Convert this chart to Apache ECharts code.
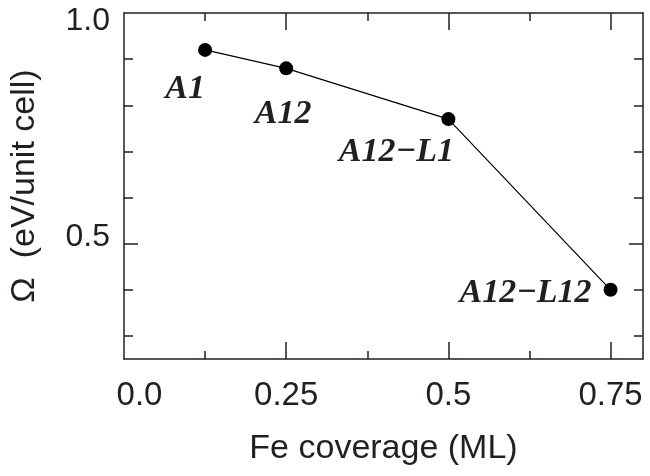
<!DOCTYPE html>
<html>
<head>
<meta charset="utf-8">
<script src="https://cdn.jsdelivr.net/npm/echarts@6/dist/echarts.min.js"></script>
<style>
html,body{margin:0;padding:0;background:#fff;}
#chart{width:650px;height:476px;}
</style>
</head>
<body>
<div id="chart"></div>
<script>
// ---- data ----
var coverage = [0.125, 0.25, 0.5, 0.75];
var omega = [0.92, 0.88, 0.77, 0.40];
var structures = ['A1', 'A12', 'A12\u2212L1', 'A12\u2212L12'];
var xTickLabels = ['0.0', '0.25', '0.5', '0.75'];
var xTickValues = [0, 0.25, 0.5, 0.75];
var yTickLabels = ['0.5', '1.0'];
var yTickValues = [0.5, 1.0];
var xMajorTicks = [0.25, 0.5, 0.75];
var xMinorTicks = [0.125, 0.375, 0.625];
var yMajorTicks = [0.5];
var yMinorTicks = [0.3, 0.4, 0.6, 0.7, 0.8, 0.9];

var labelOffsets = [[-20, 39], [-3, 46], [-52, 33], [-85, 3]];

var sans = '"Liberation Sans", Arial, Helvetica, sans-serif';
var serif = '"Liberation Serif", "Times New Roman", serif';
var ink = '#231f20';

function xAx(pos, ticks, len, showLine, showLabel) {
  return {
    type: 'value', position: pos, min: 0, max: 0.8, gridIndex: 0,
    splitLine: {show: false},
    axisLine: {show: showLine, onZero: false, lineStyle: {color: ink, width: 1.5}},
    axisTick: {show: true, inside: true, length: len, customValues: ticks, lineStyle: {color: ink, width: 1.5}},
    axisLabel: {show: false}
  };
}
function yAx(pos, ticks, len, showLine) {
  return {
    type: 'value', position: pos, min: 0.25, max: 1.0, gridIndex: 0,
    splitLine: {show: false},
    axisLine: {show: showLine, onZero: false, lineStyle: {color: ink, width: 1.5}},
    axisTick: {show: true, inside: true, length: len, customValues: ticks, lineStyle: {color: ink, width: 1.5}},
    axisLabel: {show: false}
  };
}

var xMain = xAx('bottom', xMajorTicks, 17, true);
xMain.axisLabel = {
  show: true, customValues: xTickValues, margin: 20,
  color: ink, fontFamily: sans, fontSize: 33,
  formatter: function (v) {
    var i = xTickValues.indexOf(v);
    var t = i >= 0 ? xTickLabels[i] : '';
    return v === 0 ? '{z|' + t + '}' : t;
  },
  rich: {z: {fontFamily: sans, fontSize: 33, color: ink, padding: [0, 0, 0, 31]}}
};
xMain.name = 'Fe coverage (ML)';
xMain.nameLocation = 'middle';
xMain.nameGap = 73;
xMain.nameTextStyle = {color: ink, fontFamily: sans, fontSize: 34};

var yMain = yAx('left', yMajorTicks, 14, true);
yMain.axisLabel = {
  show: true, customValues: yTickValues, margin: 14,
  color: ink, fontFamily: sans, fontSize: 32,
  formatter: function (v) {
    var i = yTickValues.indexOf(v);
    var t = i >= 0 ? yTickLabels[i] : '';
    return v === 1 ? '{t|' + t + '}' : '{m|' + t + '}';
  },
  rich: {
    t: {fontFamily: sans, fontSize: 32, color: ink, padding: [16, 0, 0, 0]},
    m: {fontFamily: sans, fontSize: 32, color: ink, padding: [0, 0, 12, 0]}
  }
};
yMain.name = '\u03A9  (eV/unit cell)';
yMain.nameLocation = 'middle';
yMain.nameRotate = 90;
yMain.nameGap = 82;
yMain.nameTextStyle = {color: ink, fontFamily: sans, fontSize: 34};

var seriesData = coverage.map(function (x, i) {
  return {
    value: [x, omega[i]],
    label: {
      show: true, formatter: structures[i], position: 'inside',
      offset: labelOffsets[i],
      fontFamily: serif, fontStyle: 'italic', fontWeight: 'bold',
      fontSize: 34, color: ink
    }
  };
});

var option = {
  backgroundColor: '#fff',
  animation: false,
  grid: {left: 124, right: 7, top: 13, bottom: 117, containLabel: false},
  xAxis: [
    xMain,
    xAx('bottom', xMinorTicks, 8, false),
    xAx('top', xMajorTicks, 17, true),
    xAx('top', xMinorTicks, 8, false)
  ],
  yAxis: [
    yMain,
    yAx('left', yMinorTicks, 9, false),
    yAx('right', yMajorTicks, 14, true),
    yAx('right', yMinorTicks, 9, false)
  ],
  series: [{
    type: 'line',
    xAxisIndex: 0, yAxisIndex: 0,
    data: seriesData,
    symbol: 'circle', symbolSize: 14,
    itemStyle: {color: '#000'},
    lineStyle: {color: '#000', width: 1.2},
    z: 5
  }]
};

var chart = echarts.init(document.getElementById('chart'), null, {renderer: 'canvas'});
chart.setOption(option);
</script>
</body>
</html>
